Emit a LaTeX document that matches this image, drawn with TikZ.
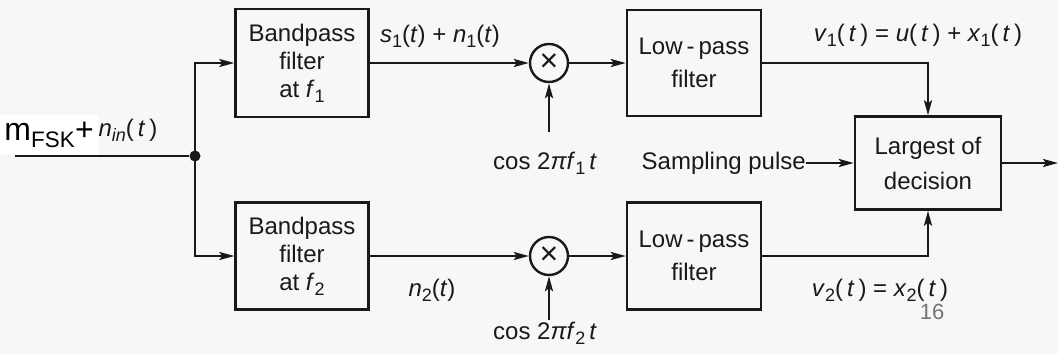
\documentclass[tikz,border=0pt]{standalone}
\usepackage{fontspec}
\setmainfont{Liberation Sans}
\usetikzlibrary{arrows.meta}
\definecolor{paper}{RGB}{247,247,245}
\definecolor{ink}{RGB}{25,25,25}
\newcommand\lsub[1]{\raisebox{-0.4ex}{\fontsize{18}{18}\selectfont #1}}
\begin{document}
\begin{tikzpicture}[x=1pt,y=-1pt,
  every node/.style={font=\fontsize{24}{28}\selectfont, text=ink},
  blk/.style={draw=ink, line width=2.4pt, inner sep=0pt, align=center, minimum width=133pt},
  mult/.style={draw=ink, circle, line width=2.4pt, minimum size=38pt, inner sep=0pt, font=\fontsize{32}{32}\selectfont},
  lbl/.style={inner sep=0pt},
  sig/.style={draw=ink, line width=2.4pt, -{Stealth[length=15pt,width=8pt,inset=3pt]}},
  wire/.style={draw=ink, line width=2.4pt}]
\fill[paper] (0,0) rectangle (1058,354);
\useasboundingbox (0,0) rectangle (1058,354);

% blocks
\node[blk, minimum height=108pt] (bp1) at (302,63) {Bandpass\\filter\\at \textit{f}\lsub1};
\node[blk, minimum height=107pt] (bp2) at (302,256) {Bandpass\\filter\\at \textit{f}\lsub2};
\node[mult] (m1) at (549,63) {×};
\node[mult] (m2) at (549,256) {×};
\node[blk, minimum width=134pt, minimum height=106pt] (lp1) at (694,63) {Low\,-\,pass\\[5pt]filter};
\node[blk, minimum width=134pt, minimum height=107pt] (lp2) at (694,256) {Low\,-\,pass\\[5pt]filter};
\node[blk, minimum width=146pt, minimum height=93pt] (dec) at (928,163) {Largest of\\[7pt]decision};

% input
\coordinate (in) at (15,156);
\node[circle, fill=ink, inner sep=0pt, minimum size=11pt] (J) at (195,156) {};
\draw[wire] (in) -- (J);
\draw[sig] (J.center) |- (bp1.west);
\draw[sig] (J.center) |- (bp2.west);
\node[fill=white, inner sep=0pt, minimum width=98pt, minimum height=40pt, anchor=north west,
      font=\fontsize{32}{32}\selectfont, text=black] (mf) at (0,115) {m\textsubscript{FSK}+\hspace{6pt}};
\node[lbl] (nin) at (128,130) {\textit{n}\lsub{\textit{in}}(\,\textit{t}\,)};

% paths
\draw[sig] (bp1.east) -- (m1.west);
\draw[sig] (bp2.east) -- (m2.west);
\draw[sig] (m1.east) -- (lp1.west);
\draw[sig] (m2.east) -- (lp2.west);
\draw[sig] (lp1.east) -| (dec.north);
\draw[sig] (lp2.east) -| (dec.south);
\coordinate (out) at (1058,163);
\draw[sig] (dec.east) -- (out);

% local oscillators
\node[lbl] (c1) at (545,163) {cos 2\textit{πf}\lsub1\,\textit{t}};
\coordinate (c1t) at (549,132);
\draw[sig] (c1t) -- (m1.south);
\node[lbl] (c2) at (545,333) {cos 2\textit{πf}\lsub2\,\textit{t}};
\coordinate (c2t) at (549,320);
\draw[sig] (c2t) -- (m2.south);

% sampling
\node[lbl, anchor=east] (sp) at (806,163) {Sampling pulse};
\draw[sig] (sp.east) -- (dec.west);

% signal labels
\node[lbl] (s1) at (440,36) {\textit{s}\lsub1(\textit{t}) + \textit{n}\lsub1(\textit{t})};
\node[lbl] (v1) at (918,35) {\textit{v}\lsub1(\,\textit{t}\,) = \textit{u}(\,\textit{t}\,) + \textit{x}\lsub1(\,\textit{t}\,)};
\node[lbl] (n2) at (432,290) {\textit{n}\lsub2(\textit{t})};
\node[lbl] (v2) at (880,290) {\textit{v}\lsub2(\,\textit{t}\,) = \textit{x}\lsub2(\,\textit{t}\,)};
\node[lbl, text=black!55, font=\fontsize{22}{22}\selectfont] (pg) at (932,312) {16};
\end{tikzpicture}
\end{document}
